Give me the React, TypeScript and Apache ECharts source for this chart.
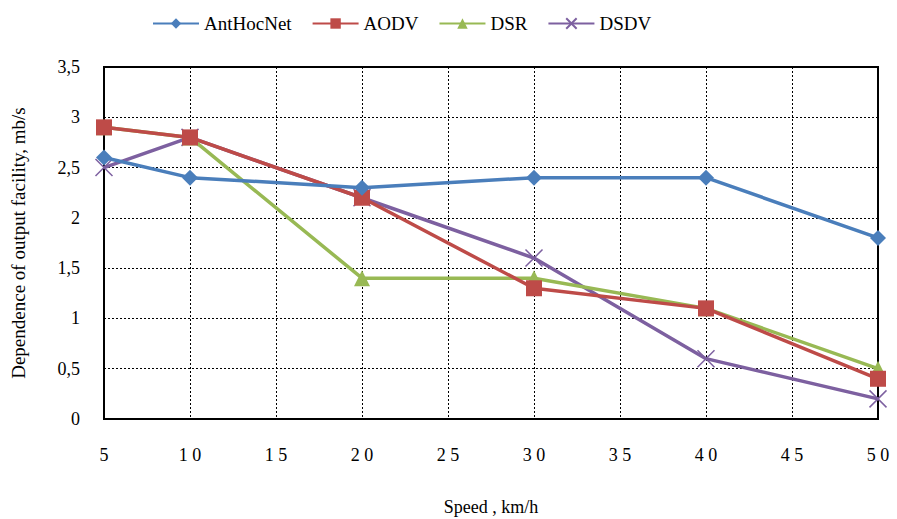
import React, { useEffect, useRef } from "react";
import * as echarts from "echarts";

const speeds = [5, 10, 20, 30, 40, 50];
const antHocNet = [2.6, 2.4, 2.3, 2.4, 2.4, 1.8];
const aodv = [2.9, 2.8, 2.2, 1.3, 1.1, 0.4];
const dsr = [2.9, 2.8, 1.4, 1.4, 1.1, 0.5];
const dsdv = [2.5, 2.8, 2.2, 1.6, 0.6, 0.2];

const seriesNames = ["AntHocNet", "AODV", "DSR", "DSDV"];
const colors = ["#4A7EBB", "#BE4B48", "#98B954", "#7D60A0"];

const FONT = "Times New Roman, Liberation Serif, serif";

export default function App() {
  const ref = useRef<HTMLDivElement>(null);
  useEffect(() => {
    if (!ref.current) return;
    document.body.style.margin = "0";
    const chart = echarts.init(ref.current, undefined, { renderer: "svg" });
    const pair = (vals: number[]) => speeds.map((s, i) => [s, vals[i]]);
    const symbols = [
      "diamond",
      "rect",
      "triangle",
      "path://M0,0 L10,10 M10,0 L0,10",
    ];
    const sizes = [16, 16, 16, 17];
    const all = [antHocNet, aodv, dsr, dsdv];
    chart.setOption({
      animation: false,
      backgroundColor: "#ffffff",
      textStyle: { fontFamily: FONT },
      legend: {
        top: 9,
        left: 147,
        itemWidth: 46,
        itemHeight: 13,
        itemGap: 20,
        textStyle: { fontFamily: FONT, fontSize: 19, color: "#000" },
        data: seriesNames,
      },
      grid: {
        left: 104,
        right: 19,
        top: 67,
        bottom: 100,
        show: true,
        borderColor: "#000",
        borderWidth: 2,
        outerBoundsMode: "none",
        containLabel: false,
      },
      xAxis: {
        type: "value",
        min: 5,
        max: 50,
        interval: 5,
        name: "Speed , km/h",
        nameLocation: "middle",
        nameGap: 79,
        nameTextStyle: { fontFamily: FONT, fontSize: 18, color: "#000" },
        axisLine: { lineStyle: { color: "#000", width: 2 } },
        axisTick: { show: false },
        axisLabel: {
          margin: 27,
          fontFamily: FONT,
          fontSize: 18,
          color: "#000",
          formatter: (v: number) => String(v).split("").join(" "),
        },
        splitLine: { show: true, lineStyle: { color: "#000", type: [2, 2], width: 1 } },
      },
      yAxis: {
        type: "value",
        min: 0,
        max: 3.5,
        interval: 0.5,
        name: "Dependence of output facility, mb/s",
        nameLocation: "middle",
        nameGap: 76,
        nameTextStyle: { fontFamily: FONT, fontSize: 19, color: "#000" },
        axisLine: { show: true, lineStyle: { color: "#000", width: 2 } },
        axisTick: { show: false },
        axisLabel: {
          margin: 24,
          fontFamily: FONT,
          fontSize: 18,
          color: "#000",
          formatter: (v: number) => String(v).replace(".", ","),
        },
        splitLine: { show: true, lineStyle: { color: "#000", type: [2, 2], width: 1 } },
      },
      series: seriesNames.map((name, i) => ({
        name,
        type: "line",
        data: pair(all[i]),
        symbol: symbols[i],
        symbolSize: sizes[i],
        showSymbol: true,
        lineStyle: { color: colors[i], width: 3.5 },
        itemStyle:
          i === 3
            ? { color: colors[i], borderColor: colors[i], borderWidth: 1.5 }
            : { color: colors[i], borderWidth: 0 },
        emphasis: { disabled: true },
        z: 10 - i,
      })),
    });
    return () => chart.dispose();
  }, []);
  return <div ref={ref} style={{ width: 897, height: 519 }} />;
}
